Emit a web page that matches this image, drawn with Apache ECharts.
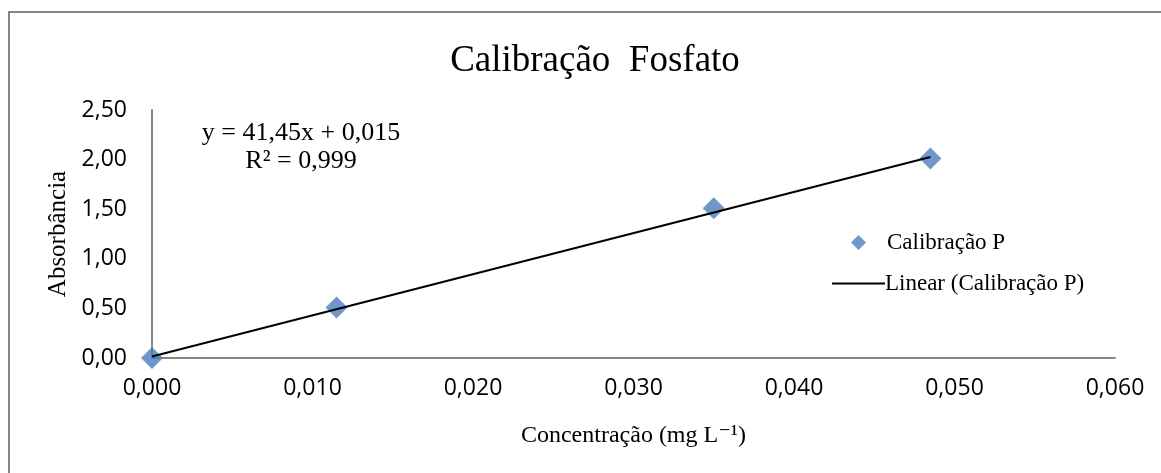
<!DOCTYPE html>
<html><head><meta charset="utf-8">
<script src="https://cdn.jsdelivr.net/npm/echarts@6/dist/echarts.min.js"></script>
<style>html,body{margin:0;padding:0;background:#fff}#c{width:1161px;height:473px}</style>
</head><body><div id="c"></div>
<script>
const concentration = [0.0, 0.0115, 0.035, 0.0485];
const absorbance = [0.0, 0.51, 1.51, 2.01];
const xTicks = [0, 0.06, 0.01];
const yTicks = [0, 2.5, 0.5];
const slope = 41.45;
const intercept = 0.015;
const title = 'Calibração  Fosfato';
const seriesName = 'Calibração P';
const trendName = 'Linear (Calibração P)';
const eqText = 'y = 41,45x + 0,015';
const r2Text = 'R² = 0,999';

const pts = concentration.map((x, i) => [x, absorbance[i]]);
const xMin = Math.min(...concentration), xMax = Math.max(...concentration);
const trend = [[xMin, slope * xMin + intercept], [xMax, slope * xMax + intercept]];

const chart = echarts.init(document.getElementById('c'));
const serif = '"Liberation Serif", "DejaVu Serif", serif';
const sans = '"Open Sans", "DejaVu Sans", sans-serif';
chart.setOption({
  animation: false,
  title: { text: title, left: 590, top: 38, textAlign: 'center',
    textStyle: { fontFamily: serif, fontWeight: 'normal', fontSize: 37, color: '#000' } },
  grid: { left: 152, right: 46, top: 110, bottom: 115, containLabel: false },
  xAxis: { type: 'value', min: xTicks[0], max: xTicks[1], interval: xTicks[2],
    name: 'Concentração (mg L⁻¹)', nameLocation: 'middle', nameGap: 66,
    nameTextStyle: { fontFamily: serif, fontSize: 24, color: '#000' },
    axisLine: { lineStyle: { color: '#868686', width: 2 } }, axisTick: { show: false },
    splitLine: { show: false },
    axisLabel: { margin: 19, fontFamily: sans, fontSize: 23, color: '#000',
      formatter: v => v.toFixed(3).replace('.', ',') } },
  yAxis: { type: 'value', min: yTicks[0], max: yTicks[1], interval: yTicks[2],
    name: 'Absorbância', nameLocation: 'middle', nameGap: 72,
    nameTextStyle: { fontFamily: serif, fontSize: 25, color: '#000' },
    axisLine: { show: true, lineStyle: { color: '#868686', width: 2 } }, axisTick: { show: false },
    splitLine: { show: false },
    axisLabel: { margin: 25, fontFamily: sans, fontSize: 23, color: '#000',
      formatter: v => v.toFixed(2).replace('.', ',') } },
  legend: [
    { data: [{ name: seriesName, icon: 'diamond' }], orient: 'vertical', left: 846, top: 226,
      itemWidth: 15, itemHeight: 15, itemGap: 10,
      textStyle: { fontFamily: serif, fontSize: 23, color: '#000', padding: [0, 0, 0, 16] } },
    { data: [{ name: trendName, icon: 'rect' }], orient: 'vertical', left: 827, top: 267,
      itemWidth: 53, itemHeight: 2, itemGap: 10,
      textStyle: { fontFamily: serif, fontSize: 23, color: '#000', padding: [0, 0, 0, -5] } }
  ],
  graphic: [
    { type: 'rect', shape: { x: 9, y: 12, width: 1200, height: 500 },
      style: { fill: 'none', stroke: '#868686', lineWidth: 2 }, silent: true, z: -10 },
    { type: 'text', style: { text: eqText, x: 301, y: 133, align: 'center', verticalAlign: 'middle',
      fontFamily: serif, fontSize: 26, fill: '#000' } },
    { type: 'text', style: { text: r2Text, x: 301, y: 161, align: 'center', verticalAlign: 'middle',
      fontFamily: serif, fontSize: 26, fill: '#000' } }
  ],
  series: [
    { name: seriesName, type: 'scatter', data: pts, symbol: 'diamond', symbolSize: 22,
      itemStyle: { color: '#4a7ebb' }, z: 2 },
    { name: trendName, type: 'line', data: trend, symbol: 'none',
      lineStyle: { color: '#000', width: 2 }, itemStyle: { color: '#000' }, z: 3 }
  ]
});
</script></body></html>
